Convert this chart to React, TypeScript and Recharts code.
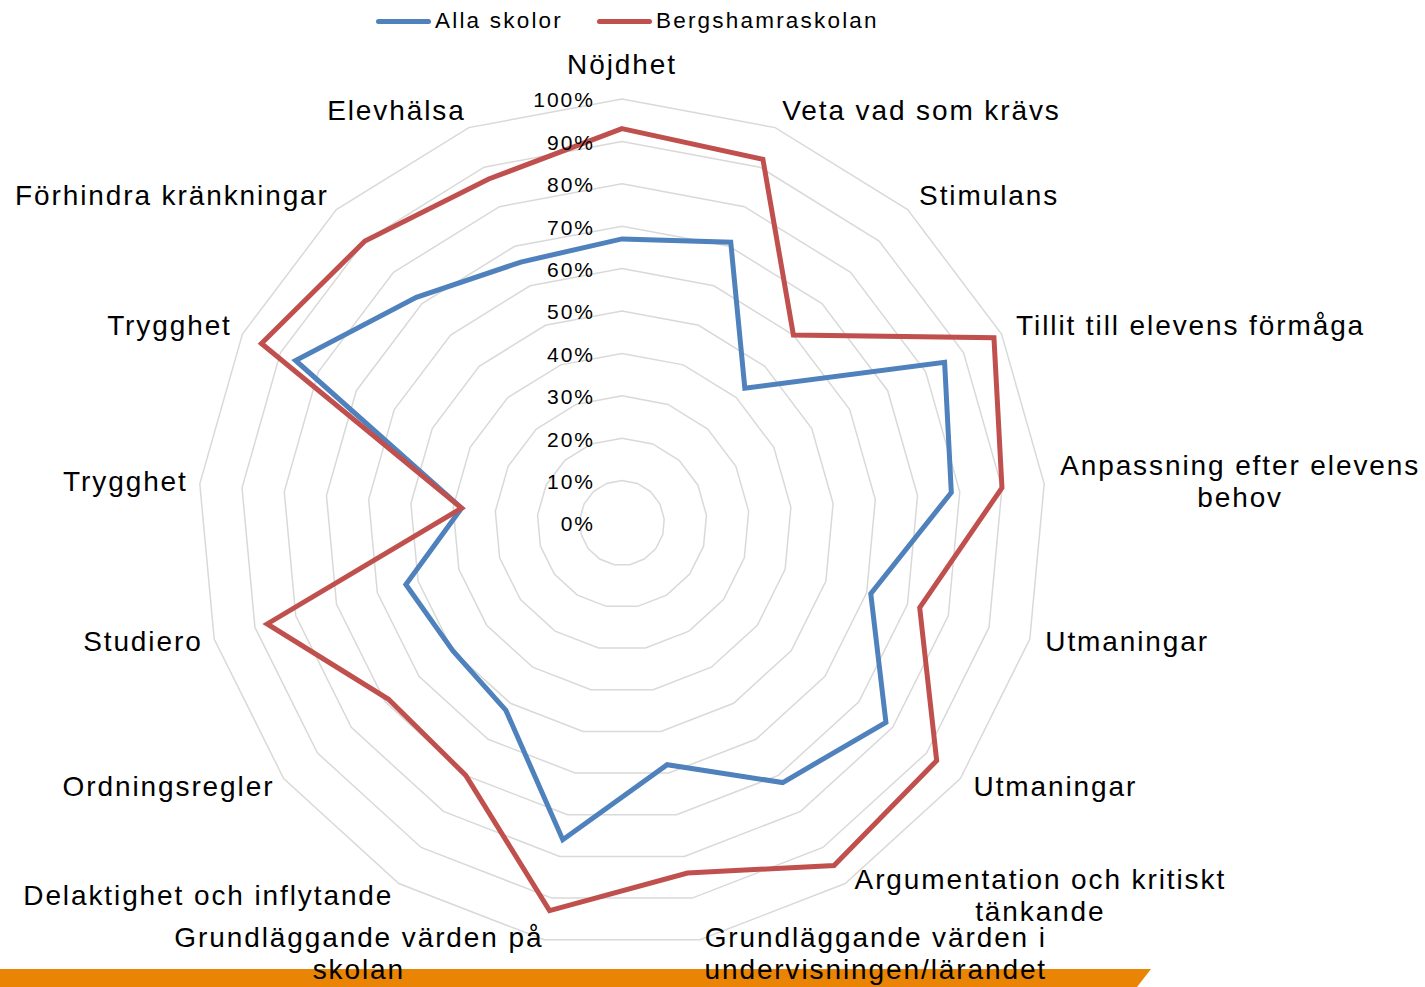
import React from "react";
import {
  RadarChart,
  Radar,
  PolarGrid,
  PolarAngleAxis,
  PolarRadiusAxis,
} from "recharts";

const categories = [
  "Nöjdhet",
  "Veta vad som krävs",
  "Stimulans",
  "Tillit till elevens förmåga",
  "Anpassning efter elevens\nbehov",
  "Utmaningar",
  "Utmaningar",
  "Argumentation och kritiskt\ntänkande",
  "Grundläggande värden i\nundervisningen/lärandet",
  "Grundläggande värden på\nskolan",
  "Delaktighet och inflytande",
  "Ordningsregler",
  "Studiero",
  "Trygghet",
  "Trygghet",
  "Förhindra kränkningar",
  "Elevhälsa",
];

const allaSkolor = [67, 71, 43, 85, 78, 61, 78, 72, 58, 76, 52, 50, 53, 38, 86, 72, 66];
const bergshamraskolan = [93, 92, 60, 98, 90, 73, 93, 95, 84, 93, 70, 69, 87, 38, 95, 90, 87];

const radiusTicks = [0, 10, 20, 30, 40, 50, 60, 70, 80, 90, 100];

const data = categories.map((name, i) => ({
  idx: i,
  name,
  alla: allaSkolor[i],
  bergs: bergshamraskolan[i],
}));

const FONT = "'Liberation Sans', Arial, sans-serif";
const CX = 622;
const CY = 523;
const OUTER = 424;
const LABEL_SIZE = 28;
const LABEL_LS = 1.9;
const LINE_H = 32;

let ctx: CanvasRenderingContext2D | null = null;
const measure = (text: string, size: number, ls: number) => {
  if (!ctx) ctx = document.createElement("canvas").getContext("2d");
  if (!ctx) return text.length * size * 0.5;
  ctx.font = `${size}px 'Liberation Sans'`;
  return ctx.measureText(text).width + ls * text.length;
};

const AngleTick = (props: any) => {
  const { payload } = props;
  const cx = typeof props.cx === "number" ? props.cx : CX;
  const cy = typeof props.cy === "number" ? props.cy : CY;
  const rad = (-payload.coordinate * Math.PI) / 180;
  const r = OUTER + 14;
  const cos = Math.cos(rad);
  const sin = Math.sin(rad);
  const x = cx + r * cos;
  const y = cy + r * sin;
  const lines = categories[payload.value].split("\n");
  const maxW = Math.max(...lines.map((l) => measure(l, LABEL_SIZE, LABEL_LS)));
  let mx = x;
  if (cos > 0.01) mx = x + 2 + maxW / 2;
  else if (cos < -0.01) mx = x - maxW / 2 + LABEL_LS;
  // labels above the centre sit a little higher, those below a little closer
  let my = y + (sin < 0 ? 3 * sin : sin) - 1.5;
  if (Math.abs(cos) <= 0.01 && sin < 0) my = y - 21;
  const top = my - ((lines.length - 1) * LINE_H) / 2;
  return (
    <g>
      {lines.map((l, i) => (
        <text
          key={i}
          x={mx}
          y={top + i * LINE_H}
          dy="0.35em"
          textAnchor="middle"
          fontSize={LABEL_SIZE}
          letterSpacing={LABEL_LS}
          fontFamily={FONT}
          fill="#000"
        >
          {l}
        </text>
      ))}
    </g>
  );
};

const RadiusTick = (props: any) => {
  const { x, y, payload } = props;
  return (
    <text
      x={x - 27}
      y={y + 1}
      dy="0.35em"
      textAnchor="end"
      fontSize={21}
      letterSpacing={2}
      fontFamily={FONT}
      fill="#000"
    >
      {payload.value}%
    </text>
  );
};

const legendItems = [
  { label: "Alla skolor", color: "#4F81BD" },
  { label: "Bergshamraskolan", color: "#C0504D" },
];

const App = () => {
  return (
    <div
      style={{
        position: "absolute",
        left: 0,
        top: 0,
        width: 1425,
        height: 987,
        overflow: "hidden",
        background: "#fff",
        fontFamily: FONT,
      }}
    >
      <div
        style={{
          position: "absolute",
          left: 0,
          top: 969,
          width: 1152,
          height: 18,
          background: "#E98404",
          clipPath: "polygon(0 0, 1151px 0, 1137px 100%, 0 100%)",
        }}
      />
      <div
        style={{
          position: "absolute",
          top: 8,
          left: 376,
          display: "flex",
          alignItems: "center",
          fontSize: 22.5,
          letterSpacing: 2.2,
          color: "#000",
          lineHeight: "26px",
        }}
      >
        {legendItems.map((it, i) => (
          <div
            key={it.label}
            style={{ display: "flex", alignItems: "center", marginRight: i === 0 ? 34 : 0 }}
          >
            <div
              style={{
                width: 55,
                height: 5,
                borderRadius: 3,
                background: it.color,
                marginRight: 4,
              }}
            />
            <span>{it.label}</span>
          </div>
        ))}
      </div>
      <div style={{ position: "absolute", left: 0, top: 0 }}>
        <RadarChart
          width={1425}
          height={987}
          data={data}
          cx={CX}
          cy={CY}
          outerRadius={OUTER}
          margin={{ top: 0, right: 0, bottom: 0, left: 0 }}
        >
          <PolarGrid
            gridType="polygon"
            radialLines={false}
            stroke="#D9D9D9"
            strokeWidth={1.5}
          />
          <PolarAngleAxis
            dataKey="idx"
            type="category"
            tick={AngleTick}
            tickLine={false}
            axisLine={false}
          />
          <PolarRadiusAxis
            angle={90}
            domain={[0, 100]}
            ticks={radiusTicks}
            tickCount={11}
            tick={RadiusTick}
            tickLine={false}
            axisLine={false}
          />
          <Radar
            name="Alla skolor"
            dataKey="alla"
            stroke="#4F81BD"
            strokeWidth={5}
            fill="none"
            fillOpacity={0}
            dot={false}
            isAnimationActive={false}
          />
          <Radar
            name="Bergshamraskolan"
            dataKey="bergs"
            stroke="#C0504D"
            strokeWidth={5}
            fill="none"
            fillOpacity={0}
            dot={false}
            isAnimationActive={false}
          />
        </RadarChart>
      </div>
    </div>
  );
};

export default App;
